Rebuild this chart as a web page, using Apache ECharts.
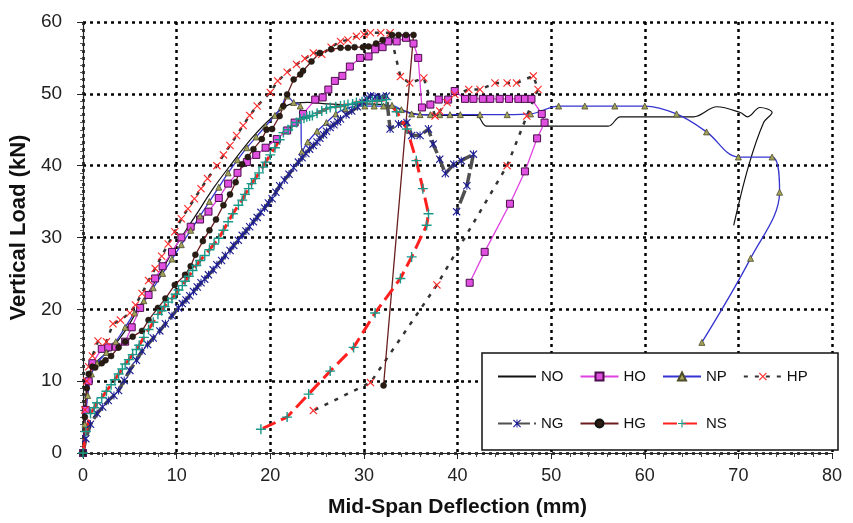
<!DOCTYPE html>
<html>
<head>
<meta charset="utf-8">
<script src="https://cdn.jsdelivr.net/npm/echarts@6/dist/echarts.min.js"></script>
<style>
  html, body { margin: 0; padding: 0; background: #fff; }
  #chart { width: 853px; height: 523px; }
</style>
</head>
<body>
<div id="chart"></div>
<script>
// Load–deflection curves, one [deflection mm, load kN] list per specimen
const seriesNames = ['NO', 'HO', 'NP', 'HP', 'NG', 'HG', 'NS'];

const noData = [[0,0],[0.3,8],[0.8,11.5],[1.5,12.8],[3,14.5],[4.5,17],[6,20.3],[8,24.5],[10,29],[12,33],
  [14,37],[16,40.5],[18,43.8],[20,46.5],[22,48.5],[24,48.8],[26,48.6],[28,48.5],[30,48.6],[32,48.5],
  [33.5,48],[35.5,47.2],[38,47],[42,47],[43.1,45.5],[47.8,45.5],[56.1,45.5],[57.4,46.8],[65.2,46.8],
  [67.7,48.2],[70.2,47.4],[71,46.8],[72.3,48.1],[73.6,47.4],[72.7,46],[71.1,40],[69.5,31.7]];

const hoData = [[0,0],[0.3,6],[0.6,10],[1,12.5],[2,14.5],[2.7,14.7],[3.5,14.8],[4.5,15.5],[5.2,17.5],
  [6.1,20.2],[7,22],[7.7,24.3],[8.5,26],[9.5,28],[10.5,30],[11.5,31.5],[12.5,32.5],[13.4,33.6],[14.5,35.5],
  [15.5,37.5],[16.5,39],[17.5,40.5],[18.5,41.5],[19.5,42.5],[20.7,43.7],[21.8,44.9],[22.6,46],[23.5,47.2],
  [24.8,49.2],[25.6,49.5],[26.2,50.6],[26.9,51.8],[27.7,52.5],[28.5,53.8],[29.6,55],[30.5,55.2],[31.2,56.2],
  [32,56.5],[32.6,57.3],[33.5,57.3],[34.5,57.8],[35.3,57],[35.8,55],[36.2,48.1],[37.1,48.5],[38,49.2],
  [39,49.2],[39.7,50.4],[40.8,49.3],[41.7,49.3],[42.7,49.3],[43.5,49.3],[44.5,49.3],[45.5,49.3],[46.5,49.3],
  [47.2,49.3],[47.9,49.3],[49,47.2],[49.3,46],[48.5,43.8],[47.2,39.2],[45.6,34.7],[42.9,28],[41.3,23.7]];

const npData = [[0,0],[0.2,4],[0.5,8],[0.9,11],[1.5,12.5],[2.5,14],[3.5,15.5],[4.5,17.5],[5.5,19.5],
  [6.5,21.2],[7.5,23],[8.5,25],[9.5,27],[10.5,29],[11.5,31],[12.5,33],[13.5,35],[14.5,37],[15.5,39],
  [16.5,40.8],[17.5,42.5],[18.5,44],[19.5,45.5],[20.5,47],[21.2,48.2],[21.8,49.7],[22.5,48.8],[23.2,48.3],
  [23.4,42],[24,43.3],[25,44.8],[26,46],[27,47.2],[28,47.9],[29.2,48.3],[30.1,48.3],[31.1,48.3],[32.1,48.3],
  [33,48.4],[34,47.8],[35.1,47.2],[36,47.1],[37.1,47.1],[38.1,47.1],[39.2,47.1],[40.3,47.1],[42.4,47.1],
  [45.3,47.1],[47.8,47.2],[50.8,48.3],[53.6,48.3],[56.8,48.3],[60,48.3],[63.4,47.2],[66.6,44.7],[70,41.2],
  [73.6,41.2],[74.4,36.3],[71.3,27.1],[66.1,15.4]];

const hpData = [[0,0],[0.2,6],[0.4,10],[0.6,12],[1,13.5],[1.6,15.6],[2.5,15.5],[3.2,18],[4,18.5],[5,19.5],
  [5.6,20.6],[6.3,22.2],[7,24],[7.7,25.7],[8.4,27.4],[9.1,29.1],[9.8,30.8],[10.5,32.6],[11.2,34],[11.9,35.4],
  [12.6,36.8],[13.3,38.2],[14.3,40],[15,41.5],[15.7,42.8],[16.4,44.2],[17.1,45.6],[17.8,47],[18.6,48.3],
  [20,50.2],[20.8,51.8],[21.8,53],[22.8,54.1],[23.7,54.9],[24.6,55.7],[25.5,55.5],[26.5,56.5],[27.5,57.3],
  [28.3,57.5],[29.2,58],[30,58.3],[30.7,58.5],[31.8,58.5],[32.8,58.5],[33.9,52.4],[34.9,51.5],[36.4,52.2],
  [37.6,46.9],[38.1,47.6],[38.9,48.8],[39.7,49.9],[41.2,50.6],[42.4,50.6],[44,51.5],[45.3,51.5],[46.3,51.5],
  [48.1,52.5],[48.6,50.6],[47.4,46.9],[45.3,40],[37.8,23.4],[30.7,9.8],[24.6,5.9]];

const ngData = [[0,0],[0.3,2],[0.8,4],[1.5,5.5],[2.1,6.4],[2.7,7.3],[3.3,8],[3.8,8.7],[4.4,10.1],[5,11.5],
  [5.7,12.9],[6.3,14.2],[6.9,15.1],[7.5,16],[8.2,17],[8.8,18],[9.5,19.1],[10.2,20.2],[10.6,20.8],[11,21.3],
  [11.4,21.9],[11.8,22.5],[12.2,23.1],[12.6,23.7],[13,24.2],[13.4,24.8],[13.9,25.5],[14.3,26.2],[14.8,26.8],
  [15.2,27.5],[15.7,28.2],[16.1,28.9],[16.6,29.6],[17,30.3],[17.4,30.9],[17.8,31.5],[18.2,32.2],[18.6,32.8],
  [19,33.5],[19.4,34.1],[19.8,34.8],[20.2,35.4],[20.6,36.3],[21,37.2],[21.5,38],[22,38.8],[22.5,39.7],
  [23,40.5],[23.4,41.1],[23.8,41.7],[24.2,42.3],[24.6,42.8],[25,43.3],[25.3,43.8],[25.7,44.3],[26,44.8],
  [26.4,45.3],[26.8,45.7],[27.2,46.1],[27.5,46.5],[28.1,47.1],[28.7,47.6],[29.3,48.2],[29.9,48.8],
  [30.3,49.3],[30.7,49.7],[31.2,49.6],[31.7,49.5],[32.4,49.7],[32.8,45.1],[33.7,45.8],[34.6,46],[35.1,44.2],
  [36,44.2],[36.9,45.1],[37.4,43],[38.1,40.9],[38.7,38.9],[39.6,40.2],[40.4,40.7],[41.7,41.6],[41,37.2],
  [39.9,33.6]];

const hgData = [[0,0],[0.2,5],[0.4,9],[0.6,11],[1,12],[1.3,11.9],[2,12.5],[2.4,12.9],[3,13.5],[3.8,14.7],
  [4.5,15.5],[5.3,16.2],[6.3,17],[7,18.5],[8,20.2],[8.8,21.5],[9.8,23.4],[10.9,24.8],[11.5,26],[12,27.6],
  [12.8,29.5],[13.5,31],[14.2,32.5],[15,34.5],[15.7,36],[16.3,37.7],[17,40.2],[17.6,41.2],[18.2,42.3],
  [19.1,43.7],[19.6,45],[20.2,45.1],[21,46.9],[21.4,48.3],[21.8,49.9],[22.5,52],[23.2,52.7],[23.5,53.2],
  [24.4,54.5],[25.3,55.7],[26.5,56.2],[27.5,56.4],[28.3,56.4],[29,56.5],[29.9,56.5],[30.5,56.6],[31.3,57],
  [32,57.5],[33,58.2],[33.7,58.2],[34.5,58.2],[35.3,58.2],[32.1,9.4]];

const nsData = [[0,0],[0.3,3],[0.8,5.5],[1.2,6.3],[1.5,7],[2,7.7],[2.5,8.6],[3,9.5],[3.4,10.2],[3.8,11],
  [4.2,11.7],[4.5,12.4],[4.9,13],[5.3,13.7],[5.7,14.4],[6,15],[6.5,16.1],[7,17.2],[7.5,18.2],[8,19.3],
  [8.4,19.8],[8.7,20.4],[9.1,21],[9.5,21.5],[9.9,22.1],[10.2,22.7],[10.6,23.3],[10.9,23.9],[11.3,24.6],
  [11.7,25.4],[12.1,26.1],[12.5,26.8],[13,27.5],[13.5,28.3],[14,29.1],[14.5,29.9],[15,31],[15.5,32.2],
  [16,33.3],[16.6,34.5],[17,35.2],[17.3,36],[17.7,36.8],[18,37.5],[18.4,38.2],[18.8,39],[19.2,39.8],
  [19.5,40.5],[20,41.5],[20.5,42.5],[21,43.6],[21.4,44.6],[21.9,45],[22.3,45.5],[22.8,46],[23.2,46.5],
  [23.6,46.6],[23.9,46.8],[24.2,46.9],[24.5,47],[25,47.3],[25.5,47.6],[26,47.9],[26.4,48.1],[27,48.2],
  [27.5,48.3],[27.9,48.4],[28.3,48.5],[28.8,48.6],[29.2,48.8],[29.8,48.9],[30.3,48.9],[30.9,49],[31.4,49],
  [31.9,49.1],[32.4,49.2],[33.5,47.5],[34.6,45.1],[35.6,40.7],[36.3,36.8],[36.9,33.3],[36.7,31.7],
  [35.1,27.3],[33.9,24.3],[31.2,19.5],[28.9,14.7],[26.4,11.4],[24.1,8.2],[21.8,5],[19.0,3.3]];

const xTicks = { min: 0, max: 80, step: 10 };
const yTicks = { min: 0, max: 60, step: 10 };

const FONT = '"Liberation Sans", Arial, sans-serif';
const crossMark = 'path://M1,0L5,4L9,0L10,1L6,5L10,9L9,10L5,6L1,10L0,9L4,5L0,1Z';
const plusMark = 'path://M4.3,0L5.7,0L5.7,4.3L10,4.3L10,5.7L5.7,5.7L5.7,10L4.3,10L4.3,5.7L0,5.7L0,4.3L4.3,4.3Z';
const starMark = 'path://M1,0L5,4L9,0L10,1L6,5L10,9L9,10L5,6L1,10L0,9L4,5L0,1Z M4.4,0L5.6,0L5.6,10L4.4,10Z';

function curve(name, data, opts) {
  return Object.assign({
    name: name,
    type: 'line',
    data: data,
    showAllSymbol: true,
    animation: false,
    clip: true
  }, opts);
}

const series = [
  curve('NO', noData, {
    symbol: 'none', smooth: 0.35,
    itemStyle: { color: '#111' },
    lineStyle: { color: '#111', width: 1.2 }
  }),
  curve('HO', hoData, {
    symbol: 'rect', symbolSize: 7,
    itemStyle: { color: '#e14fe1', borderColor: '#4a0f4a', borderWidth: 1 },
    lineStyle: { color: '#e040e0', width: 1.3 }
  }),
  curve('NP', npData, {
    symbol: 'triangle', symbolSize: 6, smooth: 0.35,
    itemStyle: { color: '#a3a35c', borderColor: '#4d4d2a', borderWidth: 0.8 },
    lineStyle: { color: '#3434d0', width: 1.3 }
  }),
  curve('HP', hpData, {
    symbol: crossMark, symbolSize: 8,
    itemStyle: { color: '#ff2b2b' },
    lineStyle: { color: '#333', width: 2.5, type: [4, 7] }
  }),
  curve('NG', ngData, {
    symbol: starMark, symbolSize: 8,
    itemStyle: { color: '#1c1c96' },
    lineStyle: { color: '#505050', width: 3.5, type: [14, 4] }
  }),
  curve('HG', hgData, {
    symbol: 'circle', symbolSize: 6,
    itemStyle: { color: '#2a1c12', borderColor: '#111', borderWidth: 0.5 },
    lineStyle: { color: '#6a1d1d', width: 1.3 }
  }),
  curve('NS', nsData, {
    symbol: plusMark, symbolSize: 10,
    itemStyle: { color: '#19998a' },
    lineStyle: { color: '#ff2020', width: 3, type: [14, 6] }
  })
];

// legend entries; the NO entry shows its plain line only
const legendItems = seriesNames.map(function (n) {
  return n === 'NO' ? { name: n, itemStyle: { opacity: 0 } } : { name: n };
});

const legendCommon = {
  orient: 'horizontal',
  itemWidth: 38,
  itemHeight: 10,
  itemGap: 16,
  z: 20,
  selectedMode: false,
  formatter: '{n|{name}}',
  textStyle: {
    color: '#111',
    fontFamily: FONT,
    rich: { n: { width: 30, fontSize: 15, fontFamily: FONT, color: '#111' } }
  }
};

const chart = echarts.init(document.getElementById('chart'), null, { renderer: 'canvas' });
chart.setOption({
  backgroundColor: '#fff',
  animation: false,
  grid: { left: 83, top: 22, width: 749, height: 434, containLabel: false },
  xAxis: {
    type: 'value', min: xTicks.min, max: xTicks.max, interval: xTicks.step,
    name: 'Mid-Span Deflection (mm)', nameLocation: 'middle', nameGap: 44,
    nameTextStyle: { fontFamily: FONT, fontSize: 21, fontWeight: 'bold', color: '#111' },
    axisLine: { show: true, lineStyle: { color: '#222', width: 1.2 } },
    axisTick: { show: true, inside: false, length: 6, lineStyle: { color: '#222' } },
    minorTick: { show: true, splitNumber: 5, length: 4, lineStyle: { color: '#444' } },
    axisLabel: { fontFamily: FONT, fontSize: 18, color: '#222', margin: 14 },
    splitLine: { show: true, lineStyle: { color: '#000', width: 2.5, type: [3, 4] } }
  },
  yAxis: {
    type: 'value', min: yTicks.min, max: yTicks.max, interval: yTicks.step,
    name: 'Vertical Load (kN)', nameLocation: 'middle', nameGap: 51, nameRotate: 90,
    nameTextStyle: { fontFamily: FONT, fontSize: 22, fontWeight: 'bold', color: '#111', padding: [0, 0, 0, 20] },
    axisLine: { show: true, lineStyle: { color: '#222', width: 1.2 } },
    axisTick: { show: true, inside: false, length: 6, lineStyle: { color: '#222' } },
    minorTick: { show: true, splitNumber: 10, length: 3, lineStyle: { color: '#555' } },
    axisLabel: { fontFamily: FONT, fontSize: 19, color: '#222', margin: 21 },
    splitLine: { show: true, lineStyle: { color: '#000', width: 2.5, type: [3, 4] } }
  },
  graphic: [{
    type: 'rect', z: 15,
    shape: { x: 482, y: 353, width: 356, height: 97 },
    style: { fill: '#fff', stroke: '#111', lineWidth: 1.5 }
  }],
  legend: [
    Object.assign({ left: 492, top: 364, data: legendItems.slice(0, 4) }, legendCommon),
    Object.assign({ left: 492, top: 411, data: legendItems.slice(4) }, legendCommon)
  ],
  series: series
});
</script>
</body>
</html>
